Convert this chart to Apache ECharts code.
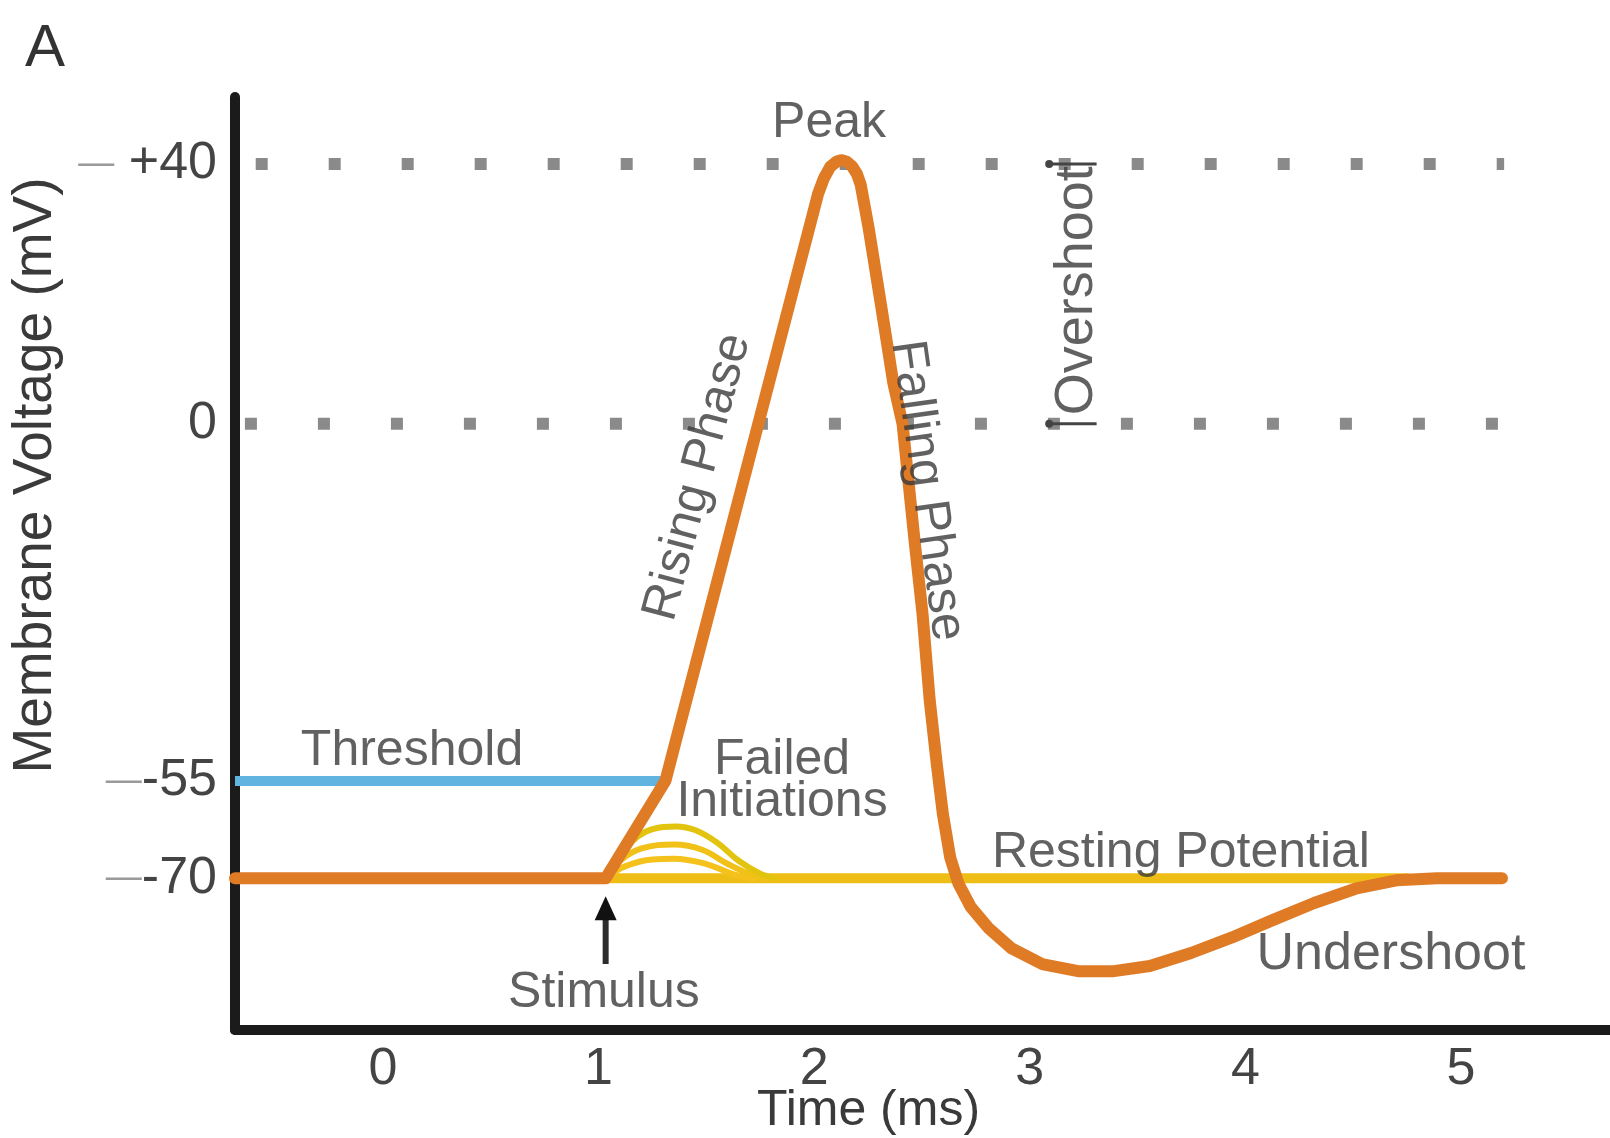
<!DOCTYPE html>
<html>
<head>
<meta charset="utf-8">
<script src="https://cdn.jsdelivr.net/npm/echarts@6/dist/echarts.min.js"></script>
<style>
html,body{margin:0;padding:0;background:#fff;}
#chart{width:1610px;height:1138px;}
</style>
</head>
<body>
<div id="chart"></div>
<script>
// ---- data (time in ms, voltage in mV) ----
const xTicks = [0, 1, 2, 3, 4, 5];
const yTicks = [40, 0, -55, -70];

const apTime = [-0.686, 1.033, 1.31, 2.019, 2.045, 2.075, 2.105, 2.125, 2.15, 2.175, 2.198, 2.216, 2.252, 2.31, 2.367, 2.41, 2.465, 2.503, 2.536, 2.569, 2.597, 2.631, 2.669, 2.726, 2.807, 2.916, 3.057, 3.224, 3.39, 3.557, 3.748, 3.938, 4.129, 4.319, 4.51, 4.7, 4.89, 5.19];
const apVoltage = [-70, -70, -55, 35.5, 37.8, 39.6, 40.4, 40.6, 40.4, 39.7, 38.5, 36.8, 30.3, 18.3, 6.3, 0, -17.8, -29.4, -42.6, -52.5, -60.1, -66.8, -70.8, -74.4, -77.6, -80.8, -83.2, -84.3, -84.3, -83.5, -81.5, -79.1, -76.4, -73.8, -71.6, -70.3, -70, -70];

const thresholdTime = [-0.686, 1.31];
const thresholdVoltage = [-55, -55];

const restTime = [1.033, 4.75];
const restVoltage = [-70, -70];

const failed1Time = [1.033, 1.08, 1.15, 1.22, 1.3, 1.36, 1.45, 1.55, 1.65, 1.75, 1.82];
const failed1Voltage = [-70, -67.5, -64.5, -62.8, -62.1, -62, -62.6, -64.5, -67.3, -69.3, -70];
const failed2Time = [1.033, 1.1, 1.2, 1.35, 1.48, 1.6, 1.72, 1.78];
const failed2Voltage = [-70, -67.3, -65.4, -64.8, -65.6, -67.8, -69.6, -70];
const failed3Time = [1.033, 1.12, 1.25, 1.35, 1.5, 1.62, 1.72];
const failed3Voltage = [-70, -68.2, -67.1, -67, -67.8, -69.3, -70];

const dotRowStart = [-0.59, -0.64];
const dotRowEnd = [5.2, 5.18];
const dotRowVoltage = [40, 0];

const stimulusTime = [1.033, 1.033];
const stimulusVoltage = [-83.2, -74.6];

const overshootTime = [3.09, 3.31];
const overshootVoltage = [40, 0];

const labelTexts = ['Peak', 'Rising Phase', 'Falling Phase', 'Overshoot', 'Threshold', 'Failed\nInitiations', 'Resting Potential', 'Undershoot', 'Stimulus'];
const labelTime = [2.069, 1.461, 2.523, 3.219, 0.135, 1.851, 3.701, 4.675, 1.025];
const labelVoltage = [46.3, -8.2, -10.3, 20.5, -50.4, -55.0, -66.1, -81.8, -87.7];
const labelRotate = [0, 75, -82, 90, 0, 0, 0, 0, 0];

// ---- helpers ----
const pairs = (xs, ys) => xs.map((x, i) => [x, ys[i]]);
const FONT = 'Liberation Sans, Arial, sans-serif';
const TXT = '#3a3a3a';

function lineSeries(data, color, width, z, extra) {
  return Object.assign({
    type: 'line', data: data, symbol: 'none', silent: true, z: z,
    animation: false,
    lineStyle: { color: color, width: width, cap: 'round', join: 'round' }
  }, extra || {});
}

const series = [];

// dotted reference rows
dotRowVoltage.forEach((v, i) => {
  series.push(lineSeries([[dotRowStart[i], v], [dotRowEnd[i], v]], '#8a8a8a', 12, 1, {
    lineStyle: { color: '#8a8a8a', width: 12, type: [12, 61], cap: 'butt' }
  }));
});

// threshold
series.push(lineSeries(pairs(thresholdTime, thresholdVoltage), '#62b4e0', 10, 2, {
  lineStyle: { color: '#62b4e0', width: 10, cap: 'butt' }
}));
// resting potential (yellow)
series.push(lineSeries(pairs(restTime, restVoltage), '#efbe16', 10, 3));
// failed initiations
series.push(lineSeries(pairs(failed3Time, failed3Voltage), '#f5c21c', 6, 3, { smooth: 0.4 }));
series.push(lineSeries(pairs(failed2Time, failed2Voltage), '#f1c118', 6, 3, { smooth: 0.4 }));
series.push(lineSeries(pairs(failed1Time, failed1Voltage), '#e2c40e', 6, 3, { smooth: 0.4 }));
// action potential
series.push(lineSeries(pairs(apTime, apVoltage), '#df7a25', 12, 4));

// stimulus arrow
series.push({
  type: 'line', silent: true, animation: false, z: 5,
  data: [
    { value: [stimulusTime[0], stimulusVoltage[0]], symbol: 'none' },
    { value: [stimulusTime[1], stimulusVoltage[1]], symbol: 'triangle', symbolSize: [22, 24] }
  ],
  showAllSymbol: true,
  lineStyle: { color: '#2d2d2d', width: 6 },
  itemStyle: { color: '#111' }
});

// overshoot bracket marks
overshootVoltage.forEach(v => {
  series.push({
    type: 'line', silent: true, animation: false, z: 5,
    data: [
      { value: [overshootTime[0], v], symbol: 'circle', symbolSize: 8 },
      { value: [overshootTime[1], v], symbol: 'none' }
    ],
    showAllSymbol: true,
    lineStyle: { color: '#444', width: 3 },
    itemStyle: { color: '#444' }
  });
});

// text annotations
series.push({
  type: 'scatter', silent: true, animation: false, z: 6,
  symbolSize: 0,
  data: labelTexts.map((t, i) => ({
    value: [labelTime[i], labelVoltage[i]],
    label: {
      show: true, formatter: t, rotate: labelRotate[i], position: 'inside',
      fontSize: t === 'Undershoot' ? 52 : (t === 'Overshoot' ? 54 : 50)
    }
  })),
  label: {
    show: true, position: 'inside', color: TXT, fontFamily: FONT,
    fontSize: 50, lineHeight: 42, align: 'center', verticalAlign: 'middle'
  }
});

const chart = echarts.init(document.getElementById('chart'), null, { renderer: 'canvas' });
chart.setOption({
  backgroundColor: '#ffffff',
  animation: false,
  title: {
    text: 'A', left: 20, top: 14,
    textStyle: { fontSize: 60, fontWeight: 'normal', color: '#333', fontFamily: FONT }
  },
  grid: { left: 235, right: 0, top: 97, bottom: 108, outerBoundsMode: 'none', containLabel: false },
  xAxis: {
    type: 'value', min: -0.686, max: 5.691,
    axisLine: { show: true, onZero: false, lineStyle: { color: '#1b1b1b', width: 10 } },
    axisTick: { show: false },
    splitLine: { show: false },
    axisLabel: {
      customValues: xTicks, margin: 14, fontSize: 52, color: '#444', fontFamily: FONT,
      formatter: v => String(v)
    },
    name: 'Time (ms)', nameLocation: 'middle', nameGap: 56, nameMoveOverlap: false,
    nameTextStyle: { fontSize: 50, color: TXT, fontFamily: FONT, padding: [0, 108, 0, 0] }
  },
  yAxis: {
    type: 'value', min: -93.36, max: 50.33,
    axisLine: { show: true, onZero: false, lineStyle: { color: '#1b1b1b', width: 10 } },
    axisTick: { show: false },
    splitLine: { show: false },
    axisLabel: {
      customValues: yTicks, margin: 18, fontSize: 52, color: '#444', fontFamily: FONT,
      formatter: v => v === 0 ? '0' : ('{d|\u2014}' + (v > 0 ? ' +' + v : String(v))),
      rich: { d: { fontSize: 36, color: '#9a9a9a', fontFamily: FONT } }
    },
    name: 'Membrane Voltage (mV)', nameLocation: 'middle', nameGap: 172, nameRotate: 90,
    nameTextStyle: { fontSize: 55, color: TXT, fontFamily: FONT, padding: [0, 0, 0, 176] }
  },
  series: series
});
</script>
</body>
</html>
